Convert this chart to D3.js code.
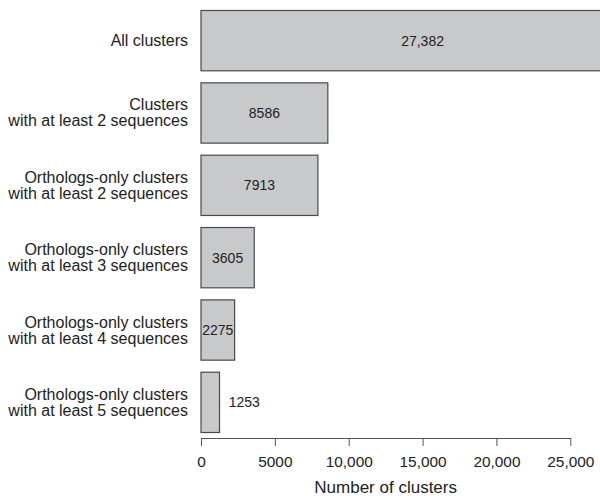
<!DOCTYPE html>
<html>
<head>
  <meta charset="utf-8">
  <script src="https://d3js.org/d3.v7.min.js"></script>
  <style>
    body { margin: 0; }
    svg { display: block; }
  </style>
</head>
<body>
<svg width="600" height="496"></svg>
<script>
var categories = [
  ["All clusters"],
  ["Clusters", "with at least 2 sequences"],
  ["Orthologs-only clusters", "with at least 2 sequences"],
  ["Orthologs-only clusters", "with at least 3 sequences"],
  ["Orthologs-only clusters", "with at least 4 sequences"],
  ["Orthologs-only clusters", "with at least 5 sequences"]
];
var counts = [27382, 8586, 7913, 3605, 2275, 1253];
var countLabels = ["27,382", "8586", "7913", "3605", "2275", "1253"];
var tickValues = [0, 5000, 10000, 15000, 20000, 25000];
var tickLabels = ["0", "5000", "10,000", "15,000", "20,000", "25,000"];

var svg = d3.select("svg");
var font = "'Liberation Sans', Arial, sans-serif";

var x = d3.scaleLinear().domain([0, 25000]).range([201, 570.3]);
var y = d3.scaleBand().domain(d3.range(counts.length)).range([10.5, 432.5])
  .paddingInner(0.2 / 1.2).paddingOuter(0);

// bars
svg.selectAll("rect.bar").data(counts).enter().append("rect")
  .attr("class", "bar")
  .attr("x", x(0))
  .attr("y", function(d, i) { return y(i); })
  .attr("width", function(d) { return x(d) - x(0); })
  .attr("height", y.bandwidth())
  .attr("fill", "#c8c9cb")
  .attr("stroke", "#4a4a4a")
  .attr("stroke-width", 1.2);

// where the count goes: middle of the bar, or beside it when the bar is thin,
// or mid-plot when the bar runs off the edge
function labelAt(d) {
  if (d > 25000) return 15000;
  if (d < 2000) return d + 1680;
  return d / 2;
}

svg.selectAll("text.val").data(counts).enter().append("text")
  .attr("class", "val")
  .attr("x", function(d) { return x(labelAt(d)); })
  .attr("y", function(d, i) { return y(i) + y.bandwidth() / 2 + 5; })
  .attr("text-anchor", "middle")
  .style("font-family", font)
  .style("font-size", "14px")
  .attr("fill", "#222")
  .text(function(d, i) { return countLabels[i]; });

// category labels
var lab = svg.selectAll("text.cat").data(categories).enter().append("text")
  .attr("class", "cat")
  .attr("text-anchor", "end")
  .style("font-family", font)
  .style("font-size", "16px")
  .attr("fill", "#222");
lab.each(function(lines, i) {
  var mid = y(i) + y.bandwidth() / 2;
  var first = mid + 5.5 - (lines.length - 1) * 8;
  d3.select(this).selectAll("tspan").data(lines).enter().append("tspan")
    .attr("x", 188)
    .attr("y", function(l, j) { return first + j * 16; })
    .text(function(l) { return l; });
});

// x axis
var xAxis = d3.axisBottom(x).tickValues(tickValues)
  .tickFormat(function(d, i) { return tickLabels[i]; })
  .tickSize(8).tickSizeOuter(0).tickPadding(10);
var ax = svg.append("g").attr("transform", "translate(0,438)").call(xAxis);
ax.select(".domain").attr("stroke", "#555");
ax.selectAll(".tick line").attr("stroke", "#555");
ax.selectAll(".tick text")
  .style("font-family", font)
  .style("font-size", "15.4px")
  .attr("fill", "#222");

svg.append("text")
  .attr("x", (x(0) + x(25000)) / 2)
  .attr("y", 493)
  .attr("text-anchor", "middle")
  .style("font-family", font)
  .style("font-size", "17px")
  .attr("fill", "#222")
  .text("Number of clusters");
</script>
</body>
</html>
